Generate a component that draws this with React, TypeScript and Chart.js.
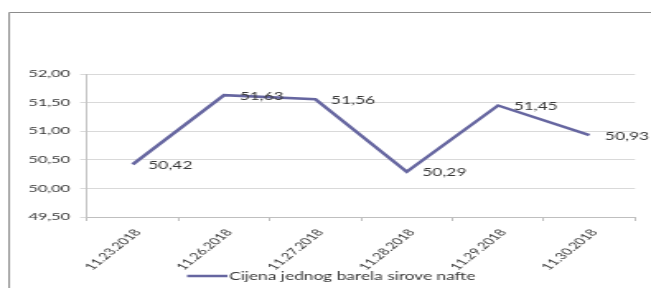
import React, { useEffect, useRef } from "react";
import { Chart, registerables } from "chart.js";

Chart.register(...registerables);

const categories = ["11.23.2018", "11.26.2018", "11.27.2018", "11.28.2018", "11.29.2018", "11.30.2018"];
const prices = [50.42, 51.63, 51.56, 50.29, 51.45, 50.93];
const seriesLabel = "Cijena jednog barela sirove nafte";
const yMin = 49.5;
const yMax = 52;
const yStep = 0.5;

const FONT = "Lato";
const TEXT = "#383838";
const LINE = "#6666a0";
const INNER_W = 395;
const H = 288;

const fmt = (v: number) => v.toFixed(2).replace(".", ",");

const framePlugin = {
  id: "frame",
  beforeDraw(chart: any) {
    const ctx = chart.ctx;
    ctx.save();
    ctx.strokeStyle = "#8c8c8c";
    ctx.lineWidth = 1;
    ctx.beginPath();
    ctx.moveTo(5.5, H);
    ctx.lineTo(5.5, 12.5);
    ctx.lineTo(INNER_W, 12.5);
    ctx.stroke();
    ctx.restore();
  },
};

const labelsPlugin = {
  id: "valueLabels",
  afterDatasetsDraw(chart: any) {
    const ctx = chart.ctx;
    const meta = chart.getDatasetMeta(0);
    const data = chart.data.datasets[0].data as number[];
    ctx.save();
    ctx.font = `10.5px ${FONT}`;
    ctx.fillStyle = TEXT;
    ctx.textAlign = "left";
    ctx.textBaseline = "middle";
    meta.data.forEach((pt: any, i: number) => {
      ctx.fillText(fmt(data[i]), pt.x + 9.5, pt.y + 1);
    });
    ctx.restore();
  },
};

const legendPlugin = {
  id: "customLegend",
  afterDraw(chart: any) {
    const ctx = chart.ctx;
    const ds = chart.data.datasets[0];
    const y = 276;
    ctx.save();
    ctx.strokeStyle = ds.borderColor;
    ctx.lineWidth = 2.5;
    ctx.beginPath();
    ctx.moveTo(113.5, y);
    ctx.lineTo(138, y);
    ctx.stroke();
    ctx.font = `10.5px ${FONT}`;
    ctx.fillStyle = TEXT;
    ctx.textAlign = "left";
    ctx.textBaseline = "middle";
    ctx.fillText(ds.label, 139, y + 0.5);
    ctx.restore();
  },
};

export default function App() {
  const ref = useRef<HTMLCanvasElement | null>(null);

  useEffect(() => {
    document.body.style.margin = "0";
    document.body.style.overflow = "hidden";
    const canvas = ref.current;
    if (!canvas) return;
    const chart = new Chart(canvas, {
      type: "line",
      data: {
        labels: categories,
        datasets: [
          {
            label: seriesLabel,
            data: prices,
            borderColor: LINE,
            backgroundColor: LINE,
            borderWidth: 2.5,
            pointRadius: 0,
            tension: 0,
            fill: false,
          },
        ],
      },
      options: {
        responsive: false,
        animation: false,
        devicePixelRatio: 1,
        layout: { padding: { top: 74, right: 9.7, bottom: 0, left: 0 } },
        plugins: {
          legend: { display: false },
          tooltip: { enabled: false },
        },
        scales: {
          x: {
            offset: true,
            grid: {
              offset: true,
              drawOnChartArea: false,
              drawTicks: true,
              tickLength: 4,
              color: "#bfbfbf",
            },
            border: { display: true, color: "#bfbfbf" },
            ticks: {
              autoSkip: false,
              maxRotation: 52,
              minRotation: 52,
              padding: 6,
              labelOffset: 3,
              color: TEXT,
              font: { family: FONT, size: 9.5 },
            },
            afterFit(scale: any) {
              scale.height = 71;
            },
          },
          y: {
            min: yMin,
            max: yMax,
            grid: { color: "#d9d9d9", tickLength: 4.2, lineWidth: 1 },
            border: { display: true, color: "#c4c4c4" },
            ticks: {
              stepSize: yStep,
              padding: 6,
              color: TEXT,
              font: { family: FONT, size: 10 },
              callback: (v: any) => fmt(Number(v)),
            },
            afterFit(scale: any) {
              scale.width = 52.8;
            },
          },
        },
      },
      plugins: [framePlugin, labelsPlugin, legendPlugin],
    });
    return () => chart.destroy();
  }, []);

  return (
    <canvas
      ref={ref}
      width={INNER_W}
      height={H}
      style={{ display: "block", width: "651px", height: `${H}px` }}
    />
  );
}
